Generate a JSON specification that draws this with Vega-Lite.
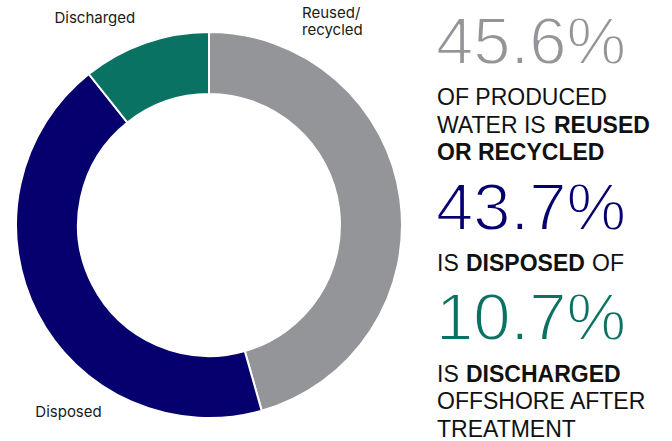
{
  "$schema": "https://vega.github.io/schema/vega-lite/v6.json",
  "padding": 0,
  "spacing": 19,
  "background": "white",
  "config": {"view": {"stroke": null}},
  "datasets": {
    "shares": [
      {"category": "Reused/recycled", "label": ["Reused/", "recycled"], "value": 45.6, "order": 1},
      {"category": "Disposed", "label": ["Disposed"], "value": 43.7, "order": 2},
      {"category": "Discharged", "label": ["Discharged"], "value": 10.7, "order": 3}
    ],
    "lines": [
      {"line": 1.5, "text": "45.6%", "style": "big", "category": "Reused/recycled"},
      {"line": 3.5, "text": "OF PRODUCED", "style": "normal", "category": "Reused/recycled"},
      {"line": 4.5, "text": "WATER IS", "style": "normal", "category": "Reused/recycled"},
      {"line": 4.5, "text": "REUSED", "style": "bold", "category": "Reused/recycled"},
      {"line": 5.5, "text": "OR RECYCLED", "style": "bold", "category": "Reused/recycled"},
      {"line": 7.5, "text": "43.7%", "style": "big", "category": "Disposed"},
      {"line": 9.5, "text": "IS", "style": "normal", "category": "Disposed"},
      {"line": 9.5, "text": "DISPOSED", "style": "bold", "category": "Disposed"},
      {"line": 9.5, "text": "OF", "style": "normal", "category": "Disposed"},
      {"line": 11.5, "text": "10.7%", "style": "big", "category": "Discharged"},
      {"line": 13.5, "text": "IS", "style": "normal", "category": "Discharged"},
      {"line": 13.5, "text": "DISCHARGED", "style": "bold", "category": "Discharged"},
      {"line": 14.5, "text": "OFFSHORE AFTER", "style": "normal", "category": "Discharged"},
      {"line": 15.5, "text": "TREATMENT", "style": "normal", "category": "Discharged"}
    ]
  },
  "hconcat": [
    {
      "width": 418,
      "height": 441,
      "data": {"name": "shares"},
      "layer": [
        {
          "mark": {"type": "arc", "outerRadius": 193, "innerRadius": 131, "stroke": "white", "strokeWidth": 2, "yOffset": 4.5},
          "encoding": {
            "theta": {"field": "value", "type": "quantitative", "stack": true},
            "order": {"field": "order", "type": "quantitative"},
            "color": {
              "field": "category", "type": "nominal",
              "scale": {"domain": ["Reused/recycled", "Disposed", "Discharged"], "range": ["#939598", "#06006e", "#0a7262"]},
              "legend": null
            }
          }
        },
        {
          "transform": [
            {"stack": "value", "groupby": [], "sort": [{"field": "order", "order": "ascending"}], "as": ["v0", "v1"]},
            {"filter": "datum.category === 'Reused/recycled'"}
          ],
          "mark": {"type": "text", "clip": true, "font": "Inter", "fontSize": 15, "color": "#1a1a1a", "align": "left", "baseline": "middle", "lineHeight": 17, "dx": 93, "dy": -2, "yOffset": 4.5},
          "encoding": {
            "theta": {"field": "v0", "type": "quantitative", "stack": null},
            "radius": {"value": 210},
            "text": {"field": "label"}
          }
        },
        {
          "transform": [
            {"stack": "value", "groupby": [], "sort": [{"field": "order", "order": "ascending"}], "as": ["v0", "v1"]},
            {"filter": "datum.category === 'Disposed'"}
          ],
          "mark": {"type": "text", "clip": true, "font": "Inter", "fontSize": 15, "color": "#1a1a1a", "align": "left", "baseline": "middle", "dx": -231, "dy": -15, "yOffset": 4.5},
          "encoding": {
            "theta": {"field": "v0", "type": "quantitative", "stack": null},
            "radius": {"value": 210},
            "text": {"field": "label"}
          }
        },
        {
          "transform": [
            {"stack": "value", "groupby": [], "sort": [{"field": "order", "order": "ascending"}], "as": ["v0", "v1"]},
            {"filter": "datum.category === 'Discharged'"}
          ],
          "mark": {"type": "text", "clip": true, "font": "Inter", "fontSize": 15, "color": "#1a1a1a", "align": "right", "baseline": "middle", "dx": 57, "dy": -43, "yOffset": 4.5},
          "encoding": {
            "theta": {"field": "v0", "type": "quantitative", "stack": null},
            "radius": {"value": 210},
            "text": {"field": "label"}
          }
        }
      ]
    },
    {
      "width": 235,
      "height": 441,
      "data": {"name": "lines"},
      "encoding": {
        "x": {"value": 0},
        "y": {"field": "line", "type": "quantitative", "scale": {"domain": [-0.04, 15.9], "reverse": true}, "axis": null},
        "text": {"field": "text"}
      },
      "layer": [
        {
          "transform": [{"filter": "datum.style === 'big'"}],
          "mark": {"type": "text", "clip": true, "font": "Liberation Sans", "fontSize": 67, "align": "left", "baseline": "middle", "dx": -1, "dy": 1, "stroke": "white", "strokeWidth": 1.8},
          "encoding": {
            "color": {
              "field": "category", "type": "nominal",
              "scale": {"domain": ["Reused/recycled", "Disposed", "Discharged"], "range": ["#939598", "#06006e", "#0a7262"]},
              "legend": null
            }
          }
        },
        {
          "transform": [{"filter": "datum.style === 'normal' && datum.text !== 'OF'"}],
          "mark": {"type": "text", "clip": true, "font": "Liberation Sans", "fontSize": 23, "color": "#111111", "align": "left", "baseline": "middle"}
        },
        {
          "transform": [{"filter": "datum.text === 'OF'"}],
          "mark": {"type": "text", "clip": true, "font": "Liberation Sans", "fontSize": 23, "color": "#111111", "align": "left", "baseline": "middle", "dx": 155}
        },
        {
          "transform": [{"filter": "datum.text === 'OR RECYCLED'"}],
          "mark": {"type": "text", "clip": true, "font": "Liberation Sans", "fontSize": 23, "fontWeight": "bold", "color": "#111111", "align": "left", "baseline": "middle"}
        },
        {
          "transform": [{"filter": "datum.text === 'REUSED'"}],
          "mark": {"type": "text", "clip": true, "font": "Liberation Sans", "fontSize": 23, "fontWeight": "bold", "color": "#111111", "align": "left", "baseline": "middle", "dx": 117}
        },
        {
          "transform": [{"filter": "datum.text === 'DISPOSED' || datum.text === 'DISCHARGED'"}],
          "mark": {"type": "text", "clip": true, "font": "Liberation Sans", "fontSize": 23, "fontWeight": "bold", "color": "#111111", "align": "left", "baseline": "middle", "dx": 29}
        }
      ]
    }
  ]
}
